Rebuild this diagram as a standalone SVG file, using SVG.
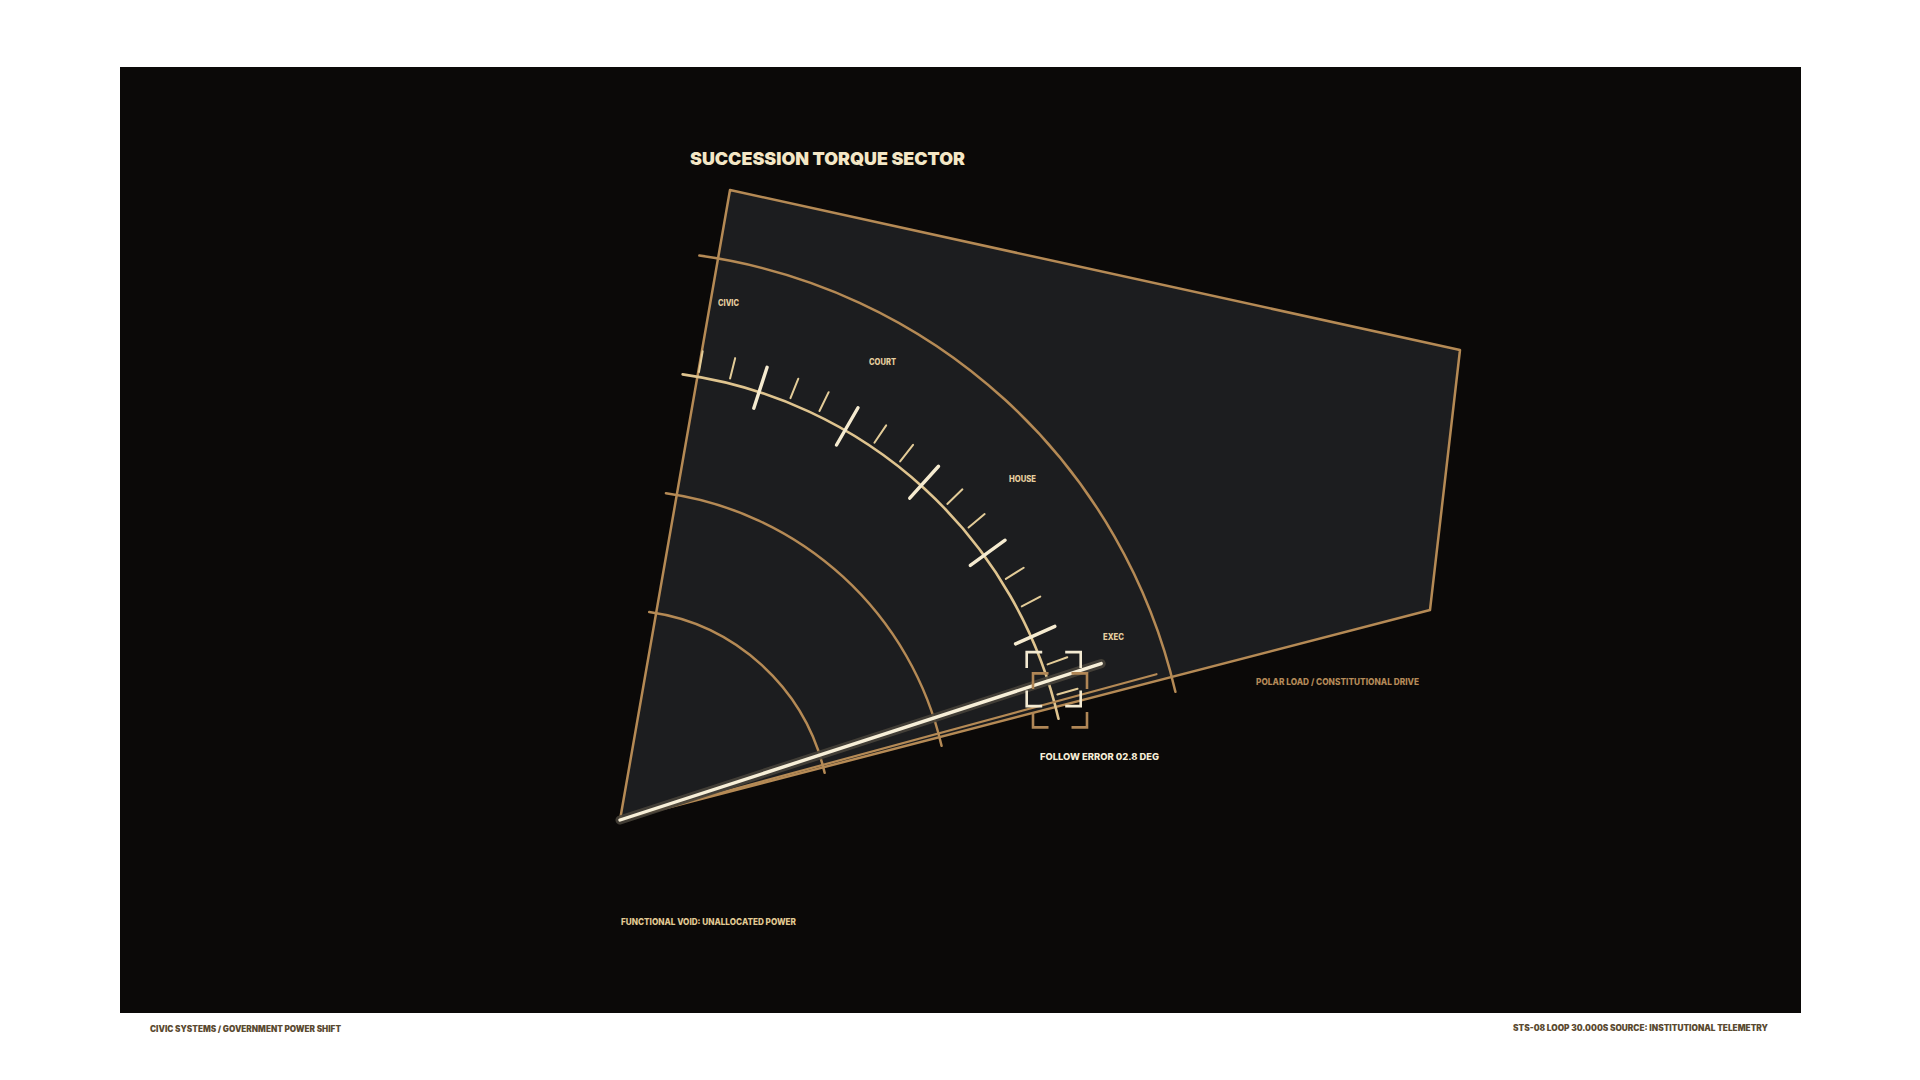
<svg xmlns="http://www.w3.org/2000/svg" width="1920" height="1080" viewBox="0 0 1920 1080">
  <defs>
    <style>
      .gold { fill: none; stroke: #b58a55; stroke-width: 2.5; stroke-linecap: round; }
      .tickarc { fill: none; stroke: #dfc48f; stroke-width: 2.6; stroke-linecap: round; }
      .minor { stroke: #e3cc98; stroke-width: 2; stroke-linecap: round; }
      .major { stroke: #f5ebd0; stroke-width: 3.4; stroke-linecap: round; }
      .lbl { font-family: Inter, "Liberation Sans", sans-serif; font-weight: 800; font-size: 8.5px; fill: #e6cf9f; }
      .title { font-family: Inter, "Liberation Sans", sans-serif; font-weight: 900; font-size: 18px; fill: #f4e7c6; }
      .note { font-family: Inter, "Liberation Sans", sans-serif; font-weight: 800; font-size: 9px; }
      .foot { font-family: Inter, "Liberation Sans", sans-serif; font-weight: 900; font-size: 8.5px; fill: #5a4a30; }
      .bw { fill: none; stroke: #f3ead2; stroke-width: 2.6; }
      .bt { fill: none; stroke: #b08656; stroke-width: 2.6; }
    </style>
    <linearGradient id="footline" x1="0" y1="0" x2="1" y2="0">
      <stop offset="0" stop-color="#2e2a1c"/>
      <stop offset="0.5" stop-color="#463c20"/>
      <stop offset="1" stop-color="#34332f"/>
    </linearGradient>
  </defs>

  <rect x="0" y="0" width="1920" height="1080" fill="#ffffff"/>
  <g id="panel">
    <rect x="120" y="67" width="1681" height="946" fill="#0b0908"/>
    <line x1="150" y1="996" x2="1770" y2="996" stroke="url(#footline)" stroke-width="1.5"/>
  </g>

  <g id="title">
    <text class="title" x="690" y="165" textLength="275" lengthAdjust="spacingAndGlyphs">SUCCESSION TORQUE SECTOR</text>
  </g>

  <g id="sector">
    <polygon points="620,820 730,190 1460,350 1430,610" fill="#1c1d1f" stroke="#b58a55" stroke-width="2.5" stroke-linejoin="round"/>
  </g>

  <g id="arcs">
    <path class="gold" d="M649.23,612.04 A210,210 0 0 1 824.62,772.76"/>
    <path class="gold" d="M665.93,493.21 A330,330 0 0 1 941.54,745.77"/>
    <path class="gold" d="M699.33,255.55 A570,570 0 0 1 1175.39,691.78"/>
    <path class="tickarc" d="M682.63,374.38 A450,450 0 0 1 1058.47,718.77"/>
  </g>

  <g id="ticks">
    <line class="minor" x1="699.01" y1="371.91" x2="702.66" y2="351.23"/>
    <line class="minor" x1="730.07" y1="378.51" x2="735.15" y2="358.14"/>
    <line class="major" x1="753.80" y1="408.19" x2="767.09" y2="367.30"/>
    <line class="minor" x1="790.45" y1="398.13" x2="798.31" y2="378.66"/>
    <line class="minor" x1="819.46" y1="411.05" x2="828.66" y2="392.18"/>
    <line class="major" x1="836.50" y1="445.01" x2="858.00" y2="407.77"/>
    <line class="minor" x1="874.43" y1="442.79" x2="886.17" y2="425.38"/>
    <line class="minor" x1="900.13" y1="461.46" x2="913.05" y2="444.91"/>
    <line class="major" x1="909.73" y1="498.22" x2="938.51" y2="466.26"/>
    <line class="minor" x1="947.30" y1="503.93" x2="962.41" y2="489.34"/>
    <line class="minor" x1="968.55" y1="527.53" x2="984.64" y2="514.03"/>
    <line class="major" x1="970.31" y1="565.49" x2="1005.09" y2="540.21"/>
    <line class="minor" x1="1005.86" y1="578.89" x2="1023.67" y2="567.76"/>
    <line class="minor" x1="1021.74" y1="606.39" x2="1040.28" y2="596.53"/>
    <line class="major" x1="1015.57" y1="643.88" x2="1054.85" y2="626.39"/>
    <line class="minor" x1="1047.56" y1="664.38" x2="1067.29" y2="657.20"/>
    <line class="minor" x1="1057.37" y1="694.58" x2="1077.56" y2="688.79"/>
  </g>

  <g id="load-line">
    <line x1="620" y1="820" x2="1156.5" y2="674.2" stroke="#b58a55" stroke-width="2.2" stroke-linecap="round"/>
  </g>

  <g id="needle">
    <line x1="620" y1="820" x2="1101.2" y2="663.6" stroke="#47433a" stroke-width="9" stroke-linecap="round" stroke-opacity="0.9"/>
    <line x1="620" y1="820" x2="1101.2" y2="663.6" stroke="#f7efd8" stroke-width="3.4" stroke-linecap="round"/>
  </g>

  <g id="reticle-load">
    <path class="bt" d="M1033,689 V673.4 H1048.5 M1071.5,673.4 H1087 V689 M1087,712 V727.4 H1071.5 M1048.5,727.4 H1033 V712"/>
  </g>
  <g id="reticle-needle">
    <path class="bw" d="M1026.7,668 V652.1 H1042.2 M1065.2,652.1 H1080.7 V668 M1080.7,690.5 V706.1 H1065.2 M1042.2,706.1 H1026.7 V690.5"/>
  </g>

  <g id="labels">
    <text class="lbl" x="718" y="306" textLength="21" lengthAdjust="spacingAndGlyphs">CIVIC</text>
    <text class="lbl" x="869" y="365" textLength="27" lengthAdjust="spacingAndGlyphs">COURT</text>
    <text class="lbl" x="1009" y="482" textLength="27" lengthAdjust="spacingAndGlyphs">HOUSE</text>
    <text class="lbl" x="1103" y="640" textLength="21" lengthAdjust="spacingAndGlyphs">EXEC</text>
    <text class="note" x="1256" y="685" fill="#b48a58" textLength="163" lengthAdjust="spacingAndGlyphs">POLAR LOAD / CONSTITUTIONAL DRIVE</text>
    <text class="note" x="1040" y="760" fill="#f5ecd6" font-size="10" textLength="119" lengthAdjust="spacingAndGlyphs">FOLLOW ERROR 02.8 DEG</text>
    <text class="note" x="621" y="925" fill="#e2ca94" font-size="9.5" textLength="175" lengthAdjust="spacingAndGlyphs">FUNCTIONAL VOID: UNALLOCATED POWER</text>
  </g>

  <g id="footer">
    <text class="foot" x="150" y="1032" textLength="191" lengthAdjust="spacingAndGlyphs">CIVIC SYSTEMS / GOVERNMENT POWER SHIFT</text>
    <text class="foot" x="1768" y="1031" text-anchor="end" textLength="255" lengthAdjust="spacingAndGlyphs">STS-08  LOOP 30.000S  SOURCE: INSTITUTIONAL TELEMETRY</text>
  </g>
</svg>
